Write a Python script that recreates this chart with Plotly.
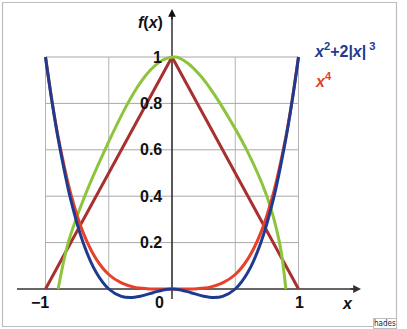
import plotly.graph_objects as go

# ---- data ----
hat_x = [-1.0, 0.0, 1.0]
hat_y = [0.0, 1.0, 0.0]

green_x = [-0.90, -0.82, -0.69, -0.53, -0.35, -0.25, -0.17, -0.08, 0.03, 0.12, 0.22, 0.30, 0.38, 0.59, 0.75, 0.85, 0.90]
green_y = [0.00, 0.20, 0.40, 0.60, 0.80, 0.89, 0.944, 0.985, 1.00, 0.975, 0.922, 0.866, 0.80, 0.60, 0.40, 0.20, 0.00]

red_x = [-1.0, -0.95, -0.9, -0.8, -0.7, -0.6, -0.5, -0.4, -0.3, -0.2, -0.1, 0.0, 0.1, 0.2, 0.3, 0.4, 0.5, 0.6, 0.7, 0.8, 0.9, 0.95, 1.0]
red_y = [1.0, 0.815, 0.656, 0.41, 0.24, 0.13, 0.0625, 0.026, 0.008, 0.0016, 0.0001, 0.0, 0.0001, 0.0016, 0.008, 0.026, 0.0625, 0.13, 0.24, 0.41, 0.656, 0.815, 1.0]

blue_x = [-1.0, -0.95, -0.9, -0.8, -0.7, -0.6, -0.5, -0.4, -0.33, -0.25, -0.15, -0.07, 0.0, 0.07, 0.15, 0.25, 0.33, 0.4, 0.5, 0.6, 0.7, 0.8, 0.9, 0.95, 1.0]
blue_y = [1.0, 0.812, 0.648, 0.384, 0.196, 0.072, 0.0, -0.032, -0.037, -0.031, -0.016, -0.004, 0.0, -0.004, -0.016, -0.031, -0.037, -0.032, 0.0, 0.072, 0.196, 0.384, 0.648, 0.812, 1.0]

x_ticks = [-1, 0, 1]
x_tick_text = ["\u22121", "0", "1"]
y_ticks = [0.2, 0.4, 0.6, 0.8, 1.0]
y_tick_text = ["0.2", "0.4", "0.6", "0.8", "1"]
grid_x = [-1.0, -0.5, 0.0, 0.5, 1.0]
grid_y = [0.2, 0.4, 0.6, 0.8, 1.0]

C_BLUE = "#1f3b8f"
C_RED = "#e8402a"
C_BROWN = "#a83030"
C_GREEN = "#8cc43c"
FONT = "Liberation Sans, Arial, sans-serif"

W, H = 407, 329
X0PX, X1PX = 172.0, 298.5   # pixel of x=0, x=1
Y0PX, Y1PX = 289.0, 57.0    # pixel of y=0, y=1
sx = X1PX - X0PX
sy = Y0PX - Y1PX
xr = [(0 - X0PX) / sx, (W - X0PX) / sx]
yr = [(Y0PX - H) / sy, (Y0PX - 0) / sy]

fig = go.Figure()
for xs, ys, c, shp in [(hat_x, hat_y, C_BROWN, "linear"), (green_x, green_y, C_GREEN, "spline"),
                       (red_x, red_y, C_RED, "spline"), (blue_x, blue_y, C_BLUE, "spline")]:
    fig.add_trace(go.Scatter(x=xs, y=ys, mode="lines",
                             line=dict(color=c, width=3, shape=shp),
                             hoverinfo="skip", showlegend=False))

shapes = []
for gx in grid_x:
    shapes.append(dict(type="line", xref="x", yref="y", x0=gx, x1=gx, y0=0, y1=1,
                       line=dict(color="#b4b4b4", width=1), layer="below"))
for gy in grid_y:
    shapes.append(dict(type="line", xref="x", yref="y", x0=-1, x1=1, y0=gy, y1=gy,
                       line=dict(color="#a8a8a8", width=1), layer="below"))
# axes
shapes.append(dict(type="line", xref="x", yref="y", x0=(17 - X0PX) / sx, x1=(355 - X0PX) / sx,
                   y0=0, y1=0, line=dict(color="#333333", width=1.3), layer="below"))
shapes.append(dict(type="line", xref="x", yref="y", x0=0, x1=0,
                   y0=(Y0PX - 299) / sy, y1=(Y0PX - 14) / sy,
                   line=dict(color="#111111", width=1.3), layer="below"))
# outer frame
shapes.append(dict(type="rect", xref="paper", yref="paper",
                   x0=2.5 / W, x1=396.5 / W, y0=1 - 326.5 / H, y1=1 - 2.5 / H,
                   line=dict(color="#bdbdbd", width=1.2), layer="below"))

ann = []
# arrowheads
ann.append(dict(x=(361 - X0PX) / sx, y=0, xref="x", yref="y", ax=-12, ay=0,
                showarrow=True, arrowhead=2, arrowsize=1.2, arrowwidth=1.3,
                arrowcolor="#333333", text=""))
ann.append(dict(x=0, y=(Y0PX - 9) / sy, xref="x", yref="y", ax=0, ay=12,
                showarrow=True, arrowhead=2, arrowsize=1.2, arrowwidth=1.3,
                arrowcolor="#111111", text=""))
bold = dict(family=FONT, size=16, color="#111111")
xlab_dx = [(40 - X0PX) / sx - x_ticks[0], (159.5 - X0PX) / sx - x_ticks[1], (299 - X0PX) / sx - x_ticks[2]]
for t, s, d in zip(x_ticks, x_tick_text, xlab_dx):
    ann.append(dict(x=t + d, y=(Y0PX - 302.5) / sy, xref="x", yref="y", text="<b>" + s + "</b>",
                    showarrow=False, font=bold, xanchor="center", yanchor="middle"))
for t, s in zip(y_ticks, y_tick_text):
    ann.append(dict(x=(164 - X0PX) / sx, y=t, xref="x", yref="y", text="<b>" + s + "</b>",
                    showarrow=False, font=bold, xanchor="right", yanchor="middle"))
ann.append(dict(x=(347.5 - X0PX) / sx, y=(Y0PX - 303) / sy, xref="x", yref="y",
                text="<b><i>x</i></b>", showarrow=False, font=bold, xanchor="center", yanchor="middle"))
ann.append(dict(x=(150 - X0PX) / sx, y=(Y0PX - 22.5) / sy, xref="x", yref="y",
                text="<b><i>f</i>(<i>x</i>)</b>", showarrow=False, font=bold,
                xanchor="center", yanchor="middle"))
ann.append(dict(x=(312 - X0PX) / sx, y=(Y0PX - 50) / sy, xref="x", yref="y",
                text="<b><i>x</i><sup>2</sup>+2|<i>x</i>|<sup> 3</sup></b>", showarrow=False,
                font=dict(family=FONT, size=16, color=C_BLUE), xanchor="left", yanchor="middle"))
ann.append(dict(x=(313 - X0PX) / sx, y=(Y0PX - 80) / sy, xref="x", yref="y",
                text="<b><i>x</i><sup>4</sup></b>", showarrow=False,
                font=dict(family=FONT, size=16, color=C_RED), xanchor="left", yanchor="middle"))
ann.append(dict(x=397 / W, y=1 - 328.5 / H, xref="paper", yref="paper", text="hades",
                showarrow=False, font=dict(family="DejaVu Sans Condensed, Liberation Sans Narrow, sans-serif", size=8, color="#222222"),
                xanchor="right", yanchor="bottom", bgcolor="white", bordercolor="#bdbdbd",
                borderwidth=1, borderpad=0))

fig.update_layout(
    width=W, height=H, margin=dict(l=0, r=0, t=0, b=0),
    paper_bgcolor="white", plot_bgcolor="white",
    xaxis=dict(range=xr, visible=False, fixedrange=True),
    yaxis=dict(range=yr, visible=False, fixedrange=True),
    shapes=shapes, annotations=ann, showlegend=False,
)
fig.write_html("out.html")
